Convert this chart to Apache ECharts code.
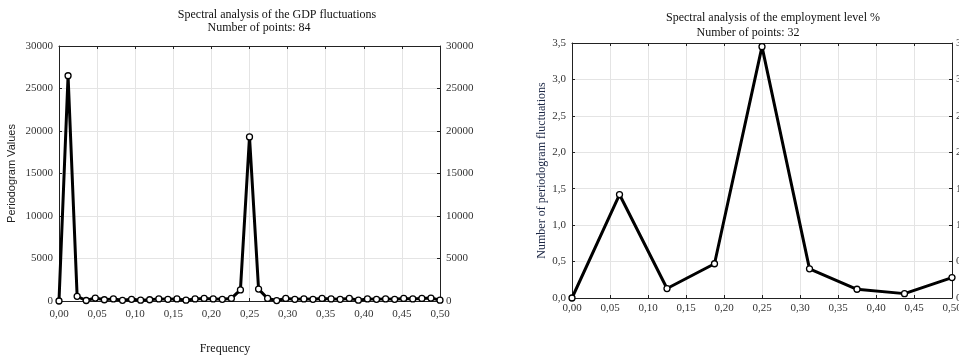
<!DOCTYPE html>
<html>
<head>
<meta charset="utf-8">
<script src="https://cdn.jsdelivr.net/npm/echarts@6/dist/echarts.min.js"></script>
<style>
  html, body { margin: 0; padding: 0; background: #fff; }
  #chart { width: 959px; height: 356px; }
</style>
</head>
<body>
<div id="chart"></div>
<script>
// GDP periodogram, 84 points -> frequencies k/84
const gdpFreq = [
  0.0000, 0.0119, 0.0238, 0.0357, 0.0476, 0.0595, 0.0714, 0.0833, 0.0952, 0.1071,
  0.1190, 0.1310, 0.1429, 0.1548, 0.1667, 0.1786, 0.1905, 0.2024, 0.2143, 0.2262,
  0.2381, 0.2500, 0.2619, 0.2738, 0.2857, 0.2976, 0.3095, 0.3214, 0.3333, 0.3452,
  0.3571, 0.3690, 0.3810, 0.3929, 0.4048, 0.4167, 0.4286, 0.4405, 0.4524, 0.4643,
  0.4762, 0.4881, 0.5000
];
const gdpValues = [
  0, 26500, 550, 60, 350, 150, 250, 80, 200, 100,
  150, 250, 200, 250, 100, 250, 300, 250, 200, 300,
  1300, 19300, 1400, 300, 50, 300, 200, 250, 200, 300,
  250, 200, 300, 100, 250, 200, 250, 200, 300, 250,
  300, 350, 100
];

// Employment periodogram, 32 points
const empFreq = [0.0000, 0.0625, 0.1250, 0.1875, 0.2500, 0.3125, 0.3750, 0.4375, 0.5000];
const empValues = [0.0, 1.42, 0.13, 0.47, 3.45, 0.40, 0.12, 0.06, 0.28];

const serif = '"Liberation Serif", "DejaVu Serif", serif';
const comma = (d) => (v) => v.toFixed(d).replace('.', ',');

const chart = echarts.init(document.getElementById('chart'));

const xBase = (gridIndex, position, showLabel, labelMargin) => ({
  type: 'value', gridIndex, position, min: 0, max: 0.5, interval: 0.05,
  axisLine: { show: true, onZero: false, lineStyle: { color: '#222', width: 1 } },
  axisTick: { show: true, inside: true, length: 3, lineStyle: { color: '#222' } },
  axisLabel: { show: showLabel, formatter: comma(2), color: '#333', fontFamily: serif, fontSize: 11, margin: labelMargin },
  splitLine: { show: position === 'bottom', lineStyle: { color: '#e4e4e4' } }
});

const yBase = (gridIndex, position, max, interval, fmt, labelMargin) => ({
  type: 'value', gridIndex, position, min: 0, max, interval,
  axisLine: { show: true, onZero: false, lineStyle: { color: '#222', width: 1 } },
  axisTick: { show: true, inside: true, length: 3, lineStyle: { color: '#222' } },
  axisLabel: { formatter: fmt, color: '#333', fontFamily: serif, fontSize: 11, margin: labelMargin },
  splitLine: { show: position === 'left', lineStyle: { color: '#e4e4e4' } }
});

const lineSeries = (xi, yi, xs, ys) => ({
  type: 'line', xAxisIndex: xi, yAxisIndex: yi,
  data: xs.map((x, i) => [x, ys[i]]),
  symbol: 'circle', symbolSize: 6,
  lineStyle: { color: '#000', width: 3 },
  itemStyle: { color: '#fff', borderColor: '#000', borderWidth: 1.3 },
  animation: false, z: 3
});

chart.setOption({
  animation: false,
  title: [
    { text: 'Spectral analysis of the GDP fluctuations', left: 272, top: 4, textAlign: 'center',
      textStyle: { fontFamily: serif, fontSize: 12, fontWeight: 'normal', color: '#111' } },
    { text: 'Number of points: 84', left: 254, top: 17, textAlign: 'center',
      textStyle: { fontFamily: serif, fontSize: 12, fontWeight: 'normal', color: '#111' } },
    { text: 'Spectral analysis of the employment level %', left: 768, top: 7, textAlign: 'center',
      textStyle: { fontFamily: serif, fontSize: 12, fontWeight: 'normal', color: '#111' } },
    { text: 'Number of points: 32', left: 743, top: 22, textAlign: 'center',
      textStyle: { fontFamily: serif, fontSize: 12, fontWeight: 'normal', color: '#111' } },
    { text: 'Frequency', left: 220, top: 338, textAlign: 'center',
      textStyle: { fontFamily: serif, fontSize: 12, fontWeight: 'normal', color: '#111' } }
  ],
  grid: [
    { left: 59, right: 519, top: 46, bottom: 55, outerBoundsMode: 'none' },
    { left: 572, right: 7, top: 43, bottom: 58, outerBoundsMode: 'none' }
  ],
  xAxis: [
    xBase(0, 'bottom', true, 8),
    xBase(0, 'top', false, 8),
    xBase(1, 'bottom', true, 5),
    xBase(1, 'top', false, 5)
  ],
  yAxis: [
    Object.assign(yBase(0, 'left', 30000, 5000, (v) => String(v), 6), {
      name: 'Periodogram Values', nameLocation: 'middle', nameGap: 42,
      nameTextStyle: { fontFamily: '"Liberation Sans", Arial, sans-serif', fontSize: 11, color: '#222' }
    }),
    yBase(0, 'right', 30000, 5000, (v) => String(v), 6),
    Object.assign(yBase(1, 'left', 3.5, 0.5, comma(1), 6), {
      name: 'Number of periodogram fluctuations', nameLocation: 'middle', nameGap: 24,
      nameTextStyle: { fontFamily: serif, fontSize: 12, color: '#1c2745' }
    }),
    yBase(1, 'right', 3.5, 0.5, comma(1), 4)
  ],
  series: [
    lineSeries(0, 0, gdpFreq, gdpValues),
    lineSeries(2, 2, empFreq, empValues)
  ]
});
</script>
</body>
</html>
